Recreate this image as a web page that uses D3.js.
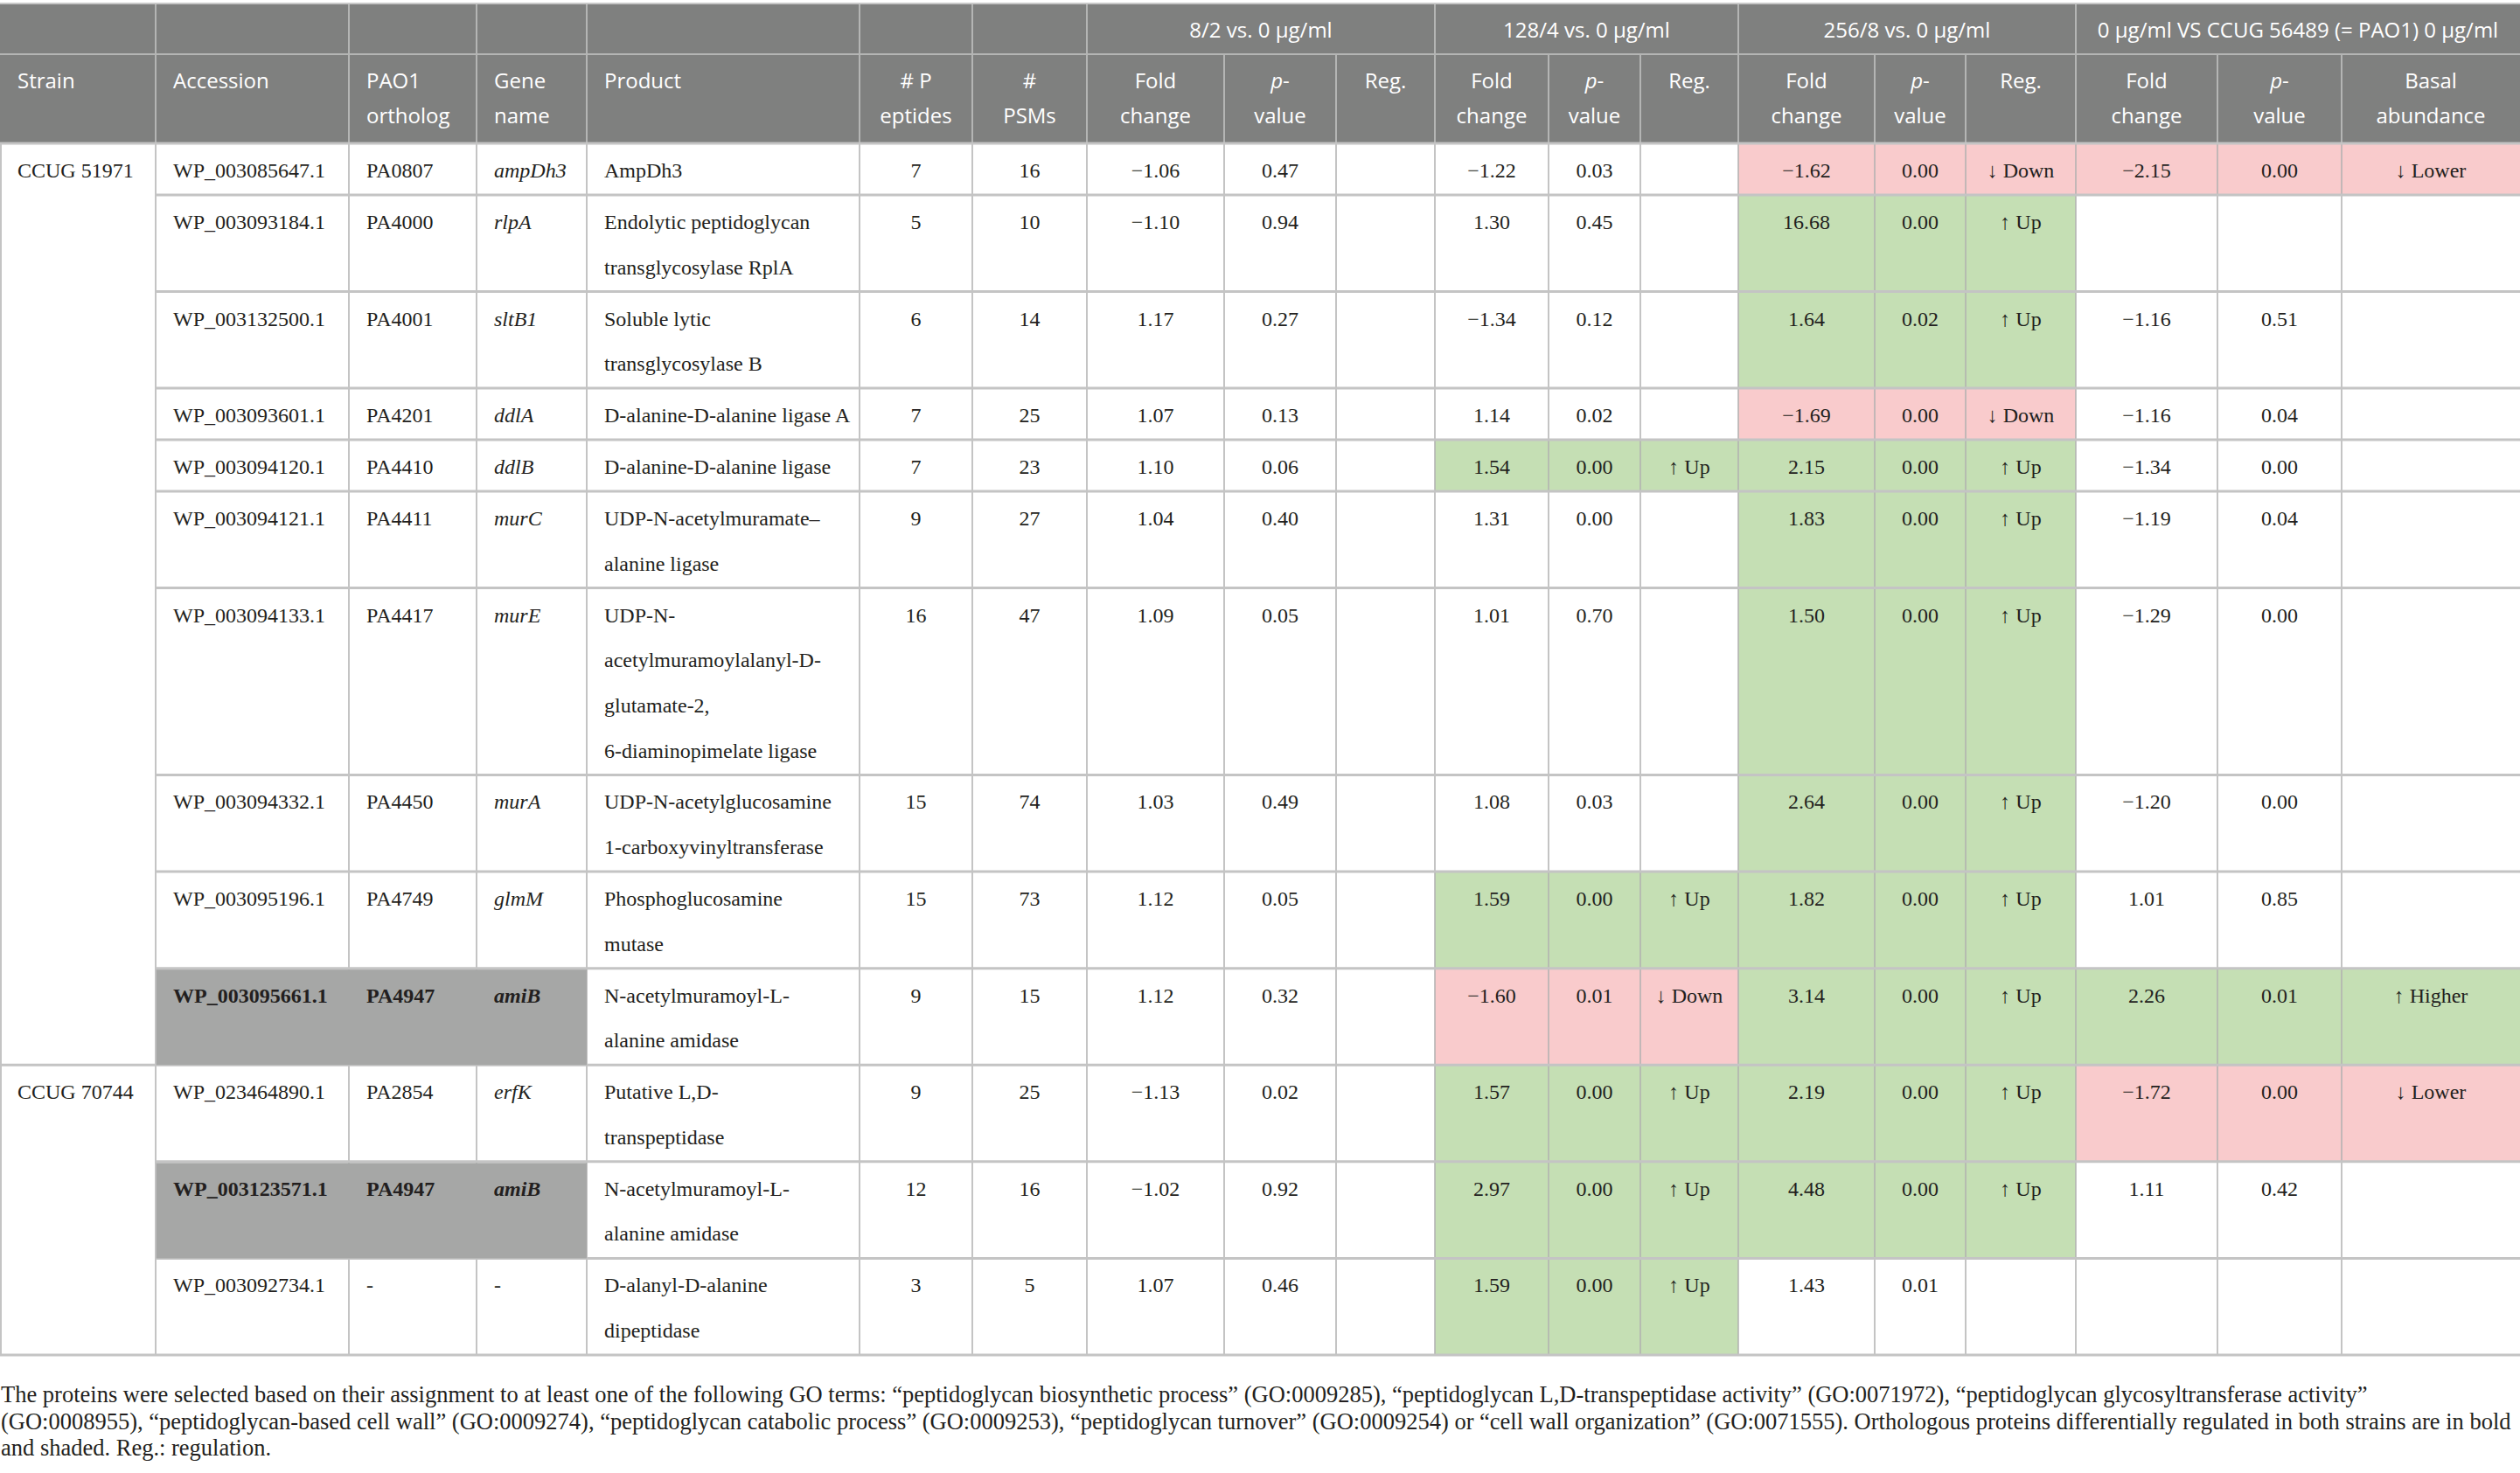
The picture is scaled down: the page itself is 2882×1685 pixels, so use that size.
<!DOCTYPE html>
<html><head><meta charset="utf-8">
<script src="https://cdn.jsdelivr.net/npm/d3@7/dist/d3.min.js"></script>
<style>html,body{margin:0;padding:0;background:#fff}svg{display:block}</style>
</head><body>
<svg id="chart" width="2882" height="1685"></svg>
<script>
// ---------------- DATA ----------------
const strains = ["CCUG 51971", "CCUG 70744"];
const strainRowCounts = [10, 3];
const accessions = ["WP_003085647.1","WP_003093184.1","WP_003132500.1","WP_003093601.1","WP_003094120.1","WP_003094121.1","WP_003094133.1","WP_003094332.1","WP_003095196.1","WP_003095661.1","WP_023464890.1","WP_003123571.1","WP_003092734.1"];
const orthologs = ["PA0807","PA4000","PA4001","PA4201","PA4410","PA4411","PA4417","PA4450","PA4749","PA4947","PA2854","PA4947","-"];
const genes = ["ampDh3","rlpA","sltB1","ddlA","ddlB","murC","murE","murA","glmM","amiB","erfK","amiB","-"];
const products = [
  "AmpDh3",
  "Endolytic peptidoglycan\ntransglycosylase RplA",
  "Soluble lytic\ntransglycosylase B",
  "D-alanine-D-alanine ligase A",
  "D-alanine-D-alanine ligase",
  "UDP-N-acetylmuramate\u2013\nalanine ligase",
  "UDP-N-\nacetylmuramoylalanyl-D-\nglutamate-2,\n6-diaminopimelate ligase",
  "UDP-N-acetylglucosamine\n1-carboxyvinyltransferase",
  "Phosphoglucosamine\nmutase",
  "N-acetylmuramoyl-L-\nalanine amidase",
  "Putative L,D-\ntranspeptidase",
  "N-acetylmuramoyl-L-\nalanine amidase",
  "D-alanyl-D-alanine\ndipeptidase"
];
const peptides = [7,5,6,7,7,9,16,15,15,9,9,12,3];
const psms = [16,10,14,25,23,27,47,74,73,15,25,16,5];
const fc8 = [-1.06,-1.10,1.17,1.07,1.10,1.04,1.09,1.03,1.12,1.12,-1.13,-1.02,1.07];
const p8 = [0.47,0.94,0.27,0.13,0.06,0.40,0.05,0.49,0.05,0.32,0.02,0.92,0.46];
const reg8 = ["","","","","","","","","","","","",""];
const fc128 = [-1.22,1.30,-1.34,1.14,1.54,1.31,1.01,1.08,1.59,-1.60,1.57,2.97,1.59];
const p128 = [0.03,0.45,0.12,0.02,0.00,0.00,0.70,0.03,0.00,0.01,0.00,0.00,0.00];
const reg128 = ["","","","","Up","","","","Up","Down","Up","Up","Up"];
const fc256 = [-1.62,16.68,1.64,-1.69,2.15,1.83,1.50,2.64,1.82,3.14,2.19,4.48,1.43];
const p256 = [0.00,0.00,0.02,0.00,0.00,0.00,0.00,0.00,0.00,0.00,0.00,0.00,0.01];
const reg256 = ["Down","Up","Up","Down","Up","Up","Up","Up","Up","Up","Up","Up",""];
const fcPAO1 = [-2.15,null,-1.16,-1.16,-1.34,-1.19,-1.29,-1.20,1.01,2.26,-1.72,1.11,null];
const pPAO1 = [0.00,null,0.51,0.04,0.00,0.04,0.00,0.00,0.85,0.01,0.00,0.42,null];
const basal = ["Lower","","","","","","","","","Higher","Lower","",""];
const shadedAccessions = ["WP_003095661.1","WP_003123571.1"];
const groupLabels = ["8/2 vs. 0 \u03bcg/ml","128/4 vs. 0 \u03bcg/ml","256/8 vs. 0 \u03bcg/ml","0 \u03bcg/ml VS CCUG 56489 (= PAO1) 0 \u03bcg/ml"];
const footnoteLines = [
  "The proteins were selected based on their assignment to at least one of the following GO terms: \u201cpeptidoglycan biosynthetic process\u201d (GO:0009285), \u201cpeptidoglycan L,D-transpeptidase activity\u201d (GO:0071972), \u201cpeptidoglycan glycosyltransferase activity\u201d",
  "(GO:0008955), \u201cpeptidoglycan-based cell wall\u201d (GO:0009274), \u201cpeptidoglycan catabolic process\u201d (GO:0009253), \u201cpeptidoglycan turnover\u201d (GO:0009254) or \u201ccell wall organization\u201d (GO:0071555). Orthologous proteins differentially regulated in both strains are in bold",
  "and shaded. Reg.: regulation."
];

// ---------------- LAYOUT ----------------
const W = 2882, H = 1685;
const fmt = d3.format(".2f");
const nRows = accessions.length;
const upSet = new Set(["Up","Higher"]), downSet = new Set(["Down","Lower"]);
const arrow = r => upSet.has(r) ? "\u2191 " + r : downSet.has(r) ? "\u2193 " + r : "";

// column definitions (relative widths), groups: 0 = fixed, 1..4 = comparison groups
const columns = [
  {key:"strain", w:178, align:"start", head:["Strain"], group:0},
  {key:"acc", w:221, align:"start", head:["Accession"], group:0, val:i=>accessions[i], shade:true},
  {key:"orth", w:146, align:"start", head:["PAO1","ortholog"], group:0, val:i=>orthologs[i], shade:true},
  {key:"gene", w:126, align:"start", head:["Gene","name"], group:0, val:i=>genes[i], italic:true, shade:true},
  {key:"prod", w:312, align:"start", head:["Product"], group:0, val:i=>products[i]},
  {key:"pep", w:129, align:"middle", head:["# P","eptides"], group:0, val:i=>String(peptides[i])},
  {key:"psm", w:131, align:"middle", head:["#","PSMs"], group:0, val:i=>String(psms[i])},
  {key:"fc8", w:157, align:"middle", head:["Fold","change"], group:1, val:i=>fmt(fc8[i]), reg:reg8},
  {key:"p8", w:128, align:"middle", head:["p-","value"], group:1, val:i=>fmt(p8[i]), reg:reg8},
  {key:"r8", w:113, align:"middle", head:["Reg."], group:1, val:i=>arrow(reg8[i]), reg:reg8},
  {key:"fc128", w:130, align:"middle", head:["Fold","change"], group:2, val:i=>fmt(fc128[i]), reg:reg128},
  {key:"p128", w:105, align:"middle", head:["p-","value"], group:2, val:i=>fmt(p128[i]), reg:reg128},
  {key:"r128", w:112, align:"middle", head:["Reg."], group:2, val:i=>arrow(reg128[i]), reg:reg128},
  {key:"fc256", w:156, align:"middle", head:["Fold","change"], group:3, val:i=>fmt(fc256[i]), reg:reg256},
  {key:"p256", w:104, align:"middle", head:["p-","value"], group:3, val:i=>fmt(p256[i]), reg:reg256},
  {key:"r256", w:126, align:"middle", head:["Reg."], group:3, val:i=>arrow(reg256[i]), reg:reg256},
  {key:"fcP", w:162, align:"middle", head:["Fold","change"], group:4, val:i=>fcPAO1[i]==null?"":fmt(fcPAO1[i]), reg:basal},
  {key:"pP", w:142, align:"middle", head:["p-","value"], group:4, val:i=>pPAO1[i]==null?"":fmt(pPAO1[i]), reg:basal},
  {key:"bas", w:204, align:"middle", head:["Basal","abundance"], group:4, val:i=>arrow(basal[i]), reg:basal}
];
const cumW = [0, ...d3.cumsum(columns, c => c.w)];
const x = d3.scaleLinear().domain([0, cumW[cumW.length-1]]).range([0, W]);
columns.forEach((c, j) => { c.x0 = x(cumW[j]); c.x1 = x(cumW[j+1]); c.tx = c.align === "start" ? c.x0 + 20 : (c.x0 + c.x1) / 2; });

// rows
const lineCounts = products.map(p => p.split("\n").length);
const rowUnits = lineCounts.map(n => n + 0.14);
const cumU = [0, ...d3.cumsum(rowUnits)];
const headTop = 5, headMid = 62, bodyTop = 164, bodyBottom = 1550;
const y = d3.scaleLinear().domain([0, cumU[cumU.length-1]]).range([bodyTop, bodyBottom]);
const lineStep = y(1) - y(0);
const rowTop = i => y(cumU[i]), rowBot = i => y(cumU[i+1]);

const svg = d3.select("#chart");
svg.append("rect").attr("width", W).attr("height", H).attr("fill", "#fff");

const HEAD_BG = "#7f807f", HEAD_LINE = "#b4b5b4", GRID_V = "#b0b0b0", GRID_H = "#c4c4c4";
const GREEN = "#c5dfb4", PINK = "#f9cbcc", SHADE = "#a6a7a6", TXT = "#231f20";
const serif = "'Liberation Serif', 'Times New Roman', serif";
const sans = "'Open Sans', 'Noto Sans', sans-serif";

// header background
svg.append("rect").attr("x", 0).attr("y", headTop).attr("width", W).attr("height", bodyTop - headTop).attr("fill", HEAD_BG);

// colored cells
const cellData = [];
columns.forEach(c => { if (c.reg) for (let i = 0; i < nRows; i++) {
  const r = c.reg[i];
  if (upSet.has(r) || downSet.has(r)) cellData.push({c, i, fill: upSet.has(r) ? GREEN : PINK});
}});
svg.append("g").selectAll("rect").data(cellData).join("rect")
  .attr("x", d => d.c.x0).attr("y", d => rowTop(d.i))
  .attr("width", d => d.c.x1 - d.c.x0).attr("height", d => rowBot(d.i) - rowTop(d.i))
  .attr("fill", d => d.fill);

// grid lines
const grid = svg.append("g");
// header top line
grid.append("line").attr("x1", 0).attr("x2", W).attr("y1", 4).attr("y2", 4).attr("stroke", "#c8c8c8").attr("stroke-width", 2);
grid.append("line").attr("x1", 0).attr("x2", W).attr("y1", headMid).attr("y2", headMid).attr("stroke", HEAD_LINE).attr("stroke-width", 2);
// header vertical lines
const groupEdges = new Set();
columns.forEach((c, j) => {
  const next = columns[j+1];
  const isGroupEdge = !next || c.group === 0 || next.group !== c.group;
  if (j < columns.length - 1) {
    grid.append("line").attr("x1", c.x1).attr("x2", c.x1)
      .attr("y1", isGroupEdge ? headTop : headMid).attr("y2", bodyTop)
      .attr("stroke", HEAD_LINE).attr("stroke-width", 2);
  }
});
// body vertical lines
[0, ...columns.map(c => c.x1)].forEach((xx, k) => {
  if (xx >= W) return;
  grid.append("line").attr("x1", Math.max(xx, 1)).attr("x2", Math.max(xx, 1))
    .attr("y1", bodyTop).attr("y2", bodyBottom).attr("stroke", GRID_V).attr("stroke-width", 1.5);
});
// body horizontal lines
const strainStarts = [0, ...d3.cumsum(strainRowCounts)];
for (let i = 0; i <= nRows; i++) {
  const full = strainStarts.includes(i);
  grid.append("line").attr("x1", full ? 0 : columns[1].x0).attr("x2", W)
    .attr("y1", y(cumU[i])).attr("y2", y(cumU[i])).attr("stroke", GRID_H).attr("stroke-width", 3);
}

// shaded (bold) cells, drawn over the grid
const shadeCols = columns.filter(c => c.shade);
const shadedRows = d3.range(nRows).filter(i => shadedAccessions.includes(accessions[i]));
svg.append("g").selectAll("rect").data(shadedRows).join("rect")
  .attr("x", shadeCols[0].x0 + 0.75).attr("y", i => rowTop(i) + 1.5)
  .attr("width", shadeCols[shadeCols.length-1].x1 - shadeCols[0].x0 - 0.75)
  .attr("height", i => rowBot(i) - rowTop(i) - 1.5)
  .attr("fill", SHADE);

// header text
const ht = svg.append("g").attr("font-family", sans).attr("font-size", 24).attr("fill", "#fff");
[1,2,3,4].forEach(g => {
  const gc = columns.filter(c => c.group === g);
  ht.append("text").attr("x", (gc[0].x0 + gc[gc.length-1].x1) / 2).attr("y", 43)
    .attr("text-anchor", "middle").text(groupLabels[g-1]);
});
columns.forEach(c => {
  c.head.forEach((line, k) => {
    const t = ht.append("text").attr("x", c.tx).attr("y", 101 + k * 40).attr("text-anchor", c.align);
    if (line === "p-") { t.append("tspan").attr("font-style", "italic").text("p"); t.append("tspan").text("-"); }
    else t.text(line);
  });
});

// body text
const bt = svg.append("g").attr("font-family", serif).attr("font-size", 24).attr("fill", TXT);
strains.forEach((s, k) => {
  bt.append("text").attr("x", columns[0].tx).attr("y", rowTop(strainStarts[k]) + 39).text(s);
});
columns.filter(c => c.val).forEach(c => {
  for (let i = 0; i < nRows; i++) {
    const v = c.val(i);
    if (!v) continue;
    const bold = c.shade && shadedRows.includes(i);
    v.split("\n").forEach((line, k) => {
      bt.append("text").attr("x", c.tx).attr("y", rowTop(i) + 39 + k * lineStep)
        .attr("text-anchor", c.align)
        .attr("font-style", c.italic ? "italic" : null)
        .attr("font-weight", bold ? "bold" : null)
        .text(line);
    });
  }
});

// footnote
const fn = svg.append("g").attr("font-family", serif).attr("fill", TXT);
const baseSize = 26;
const probe = fn.append("text").attr("font-size", baseSize).text(footnoteLines[1]);
const measured = probe.node().getComputedTextLength();
probe.remove();
const fSize = baseSize * 2872 / measured;
footnoteLines.forEach((line, k) => {
  fn.append("text").attr("x", 1).attr("y", 1604 + k * 30.5).attr("font-size", fSize).text(line);
});
</script>
</body></html>
